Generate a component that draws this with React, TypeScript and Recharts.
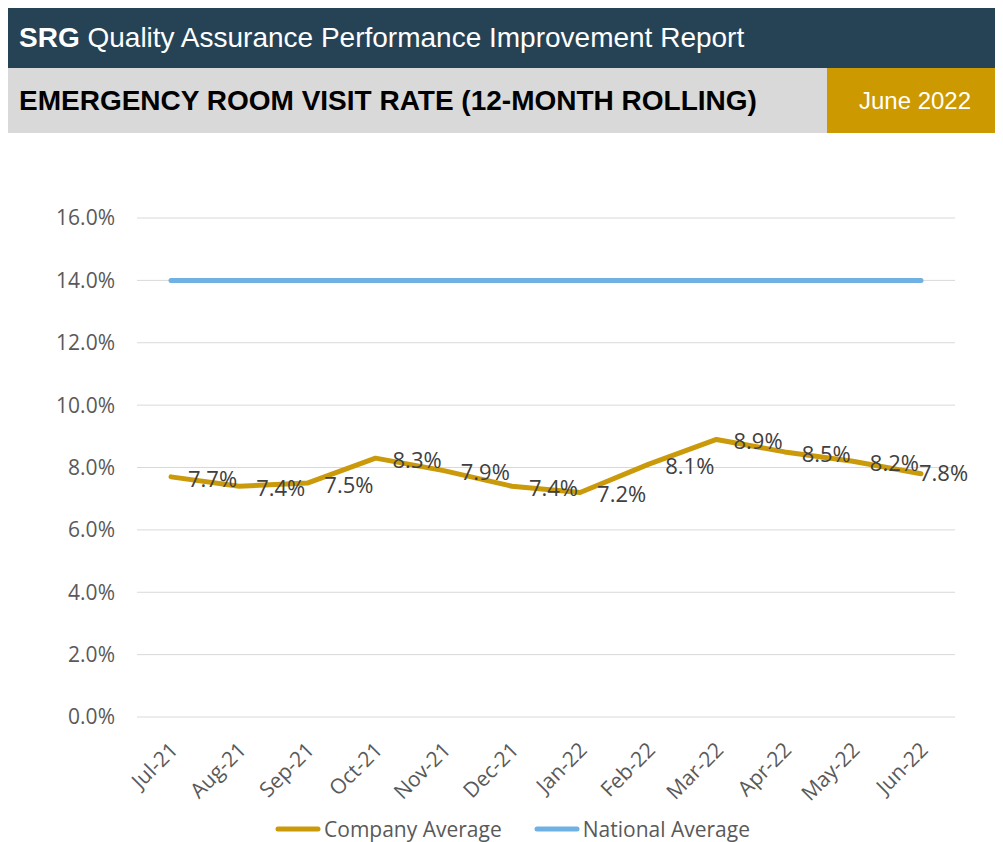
import React from "react";
import { LineChart, Line, XAxis, YAxis, CartesianGrid, Legend, LabelList } from "recharts";

const months = ["Jul-21", "Aug-21", "Sep-21", "Oct-21", "Nov-21", "Dec-21", "Jan-22", "Feb-22", "Mar-22", "Apr-22", "May-22", "Jun-22"];
const companyAverage = [7.7, 7.4, 7.5, 8.3, 7.9, 7.4, 7.2, 8.1, 8.9, 8.5, 8.2, 7.8];
const nationalAverage = [14.0, 14.0, 14.0, 14.0, 14.0, 14.0, 14.0, 14.0, 14.0, 14.0, 14.0, 14.0];
const yTicks = [0, 2, 4, 6, 8, 10, 12, 14, 16];

const data = months.map((m, i) => ({ month: m, company: companyAverage[i], national: nationalAverage[i] }));

const GOLD = "#CA9A0A";
const BLUE = "#6FB1E3";
const TEXT = "#595959";
const FONT = "'Open Sans', sans-serif";

const XTick = (props: any) => {
  const { x, y, payload } = props;
  return (
    <g transform={`translate(${x + 3},${y + 21})`}>
      <text transform="rotate(-45)" textAnchor="end" dy="0.35em" fill={TEXT} fontSize={21} fontFamily={FONT}>
        {payload.value}
      </text>
    </g>
  );
};

const DataLabel = (props: any) => {
  const { x, y, value, index } = props;
  const isLast = index === companyAverage.length - 1;
  return (
    <text x={isLast ? x - 2 : x + 17} y={isLast ? y : y + 2} dy="0.35em" textAnchor="start" fill="#404040" fontSize={22} fontFamily={FONT}>
      {`${Number(value).toFixed(1)}%`}
    </text>
  );
};

const LegendContent = () => (
  <div style={{ display: "flex", justifyContent: "center", alignItems: "center", height: 40, paddingTop: 14, boxSizing: "border-box", marginLeft: 62, fontFamily: FONT, fontSize: 21, color: TEXT }}>
    {[{ c: GOLD, n: "Company Average" }, { c: BLUE, n: "National Average" }].map((it, i) => (
      <div key={i} style={{ display: "flex", alignItems: "center", marginRight: i === 0 ? 32 : 0 }}>
        <svg width={46} height={10} style={{ marginRight: 3 }}>
          <line x1={3} y1={5} x2={43} y2={5} stroke={it.c} strokeWidth={5} strokeLinecap="round" />
        </svg>
        <span>{it.n}</span>
      </div>
    ))}
  </div>
);

export default function App() {
  return (
    <div style={{ width: 995, height: 834, position: "relative", background: "#fff" }}>
      <div style={{ height: 60, background: "#264356", display: "flex", alignItems: "center", paddingLeft: 11, fontFamily: "'Liberation Sans', Arial, sans-serif", fontSize: 28, color: "#fff" }}>
        <span style={{ fontWeight: "bold" }}>SRG</span>
        <span>&nbsp;Quality Assurance Performance Improvement Report</span>
      </div>
      <div style={{ height: 65, background: "#D9D9D9", display: "flex", alignItems: "center", position: "relative", fontFamily: "'Liberation Sans', Arial, sans-serif" }}>
        <span style={{ paddingLeft: 11, fontWeight: "bold", fontSize: 28, color: "#000" }}>EMERGENCY ROOM VISIT RATE (12-MONTH ROLLING)</span>
        <div style={{ position: "absolute", right: 0, top: 0, width: 176, height: 65, background: "#CC9900", color: "#fff", fontSize: 24, display: "flex", alignItems: "center", justifyContent: "center" }}>
          June 2022
        </div>
      </div>
      <LineChart width={995} height={709} data={data} margin={{ top: 85, right: 48, left: 0, bottom: 0 }}>
        <CartesianGrid vertical={false} stroke="#D9D9D9" strokeWidth={1} />
        <XAxis
          dataKey="month"
          axisLine={false}
          tickLine={false}
          height={85}
          interval={0}
          padding={{ left: 34, right: 34 }}
          tick={<XTick />}
        />
        <YAxis
          width={129}
          domain={[0, 16]}
          ticks={yTicks}
          axisLine={false}
          tickLine={false}
          tickSize={0}
          tickMargin={22}
          tickFormatter={(v: number) => `${v.toFixed(1)}%`}
          tick={{ fill: TEXT, fontSize: 21, fontFamily: FONT }}
        />
        <Legend verticalAlign="bottom" wrapperStyle={{ height: 40 }} content={<LegendContent />} />
        <Line type="linear" dataKey="national" name="National Average" stroke={BLUE} strokeWidth={5} strokeLinecap="round" dot={false} isAnimationActive={false} />
        <Line type="linear" dataKey="company" name="Company Average" stroke={GOLD} strokeWidth={5} strokeLinecap="round" strokeLinejoin="round" dot={false} isAnimationActive={false}>
          <LabelList dataKey="company" content={<DataLabel />} />
        </Line>
      </LineChart>
    </div>
  );
}
